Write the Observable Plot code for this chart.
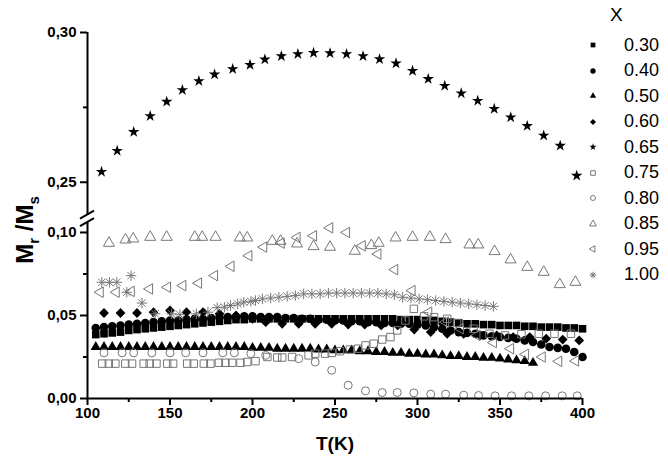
<!DOCTYPE html>
<html><head><meta charset="utf-8">
<script src="https://cdn.jsdelivr.net/npm/d3@7"></script>
<script src="https://cdn.jsdelivr.net/npm/@observablehq/plot@0.6"></script>
<style>
html,body{margin:0;padding:0;background:#fff;}
#wrap{position:relative;width:668px;height:459px;font-family:"Liberation Sans",Arial,sans-serif;}
#legend{position:absolute;left:580px;top:0;width:88px;color:#000;}
#legend .title{position:absolute;left:30px;top:4px;font-size:19px;}
#legend .row{position:absolute;left:0;height:20px;display:flex;align-items:center;}
#legend .row svg{width:26px;height:20px;}
#legend .row span{font-size:18px;margin-left:18px;}
</style></head><body><div id="wrap"></div>
<script>
// ---- data ----
const seriesLabels = ["0.30","0.40","0.50","0.60","0.65","0.75","0.80","0.85","0.95","1.00"];

const t030 = [105,110,115,120,125,130,135,140,145,150,155,160,165,170,175,180,185,190,195,200,205,210,215,220,225,230,235,240,245,250,255,260,265,270,275,280,285,290,295,300,305,310,315,320,325,330,335,340,345,350,355,360,365,370,375,380,385,390,395,400];
const v030 = [.0385,.039,.0395,.040,.041,.0415,.042,.0425,.043,.0435,.044,.0445,.045,.0455,.046,.0465,.047,.0475,.0475,.048,.048,.048,.048,.048,.048,.048,.048,.048,.048,.048,.048,.048,.048,.048,.048,.048,.048,.0475,.0475,.0475,.047,.047,.0465,.046,.0455,.045,.045,.0445,.0445,.044,.044,.044,.0435,.0435,.043,.043,.043,.0425,.0425,.042];

const t040 = [105,110,115,120,125,130,135,140,145,150,155,160,165,170,175,180,185,190,195,200,205,210,215,220,225,230,235,240,245,250,255,260,265,270,275,280,285,290,295,300,305,310,315,320,325,330,335,340,345,350,355,360,365,370,375,380,385,390,395,400];
const v040 = [.0425,.043,.0435,.044,.0445,.045,.0455,.046,.0465,.047,.047,.0475,.048,.048,.0485,.049,.049,.049,.0495,.0495,.049,.049,.049,.0485,.0485,.048,.048,.0475,.0475,.047,.047,.0465,.0465,.046,.046,.0455,.0455,.045,.045,.0445,.044,.043,.042,.041,.040,.0395,.039,.038,.0375,.037,.0365,.036,.035,.034,.0325,.031,.0305,.030,.028,.025];

const t050 = [105,110,115,120,125,130,135,140,145,150,155,160,165,170,175,180,185,190,195,200,205,210,215,220,225,230,235,240,245,250,255,260,265,270,275,280,285,290,295,300,305,310,315,320,325,330,335,340,345,350,355,360,365,370];
const v050 = [.031,.031,.031,.031,.031,.031,.031,.031,.031,.031,.031,.031,.031,.031,.031,.031,.031,.031,.031,.0305,.0305,.0305,.030,.030,.030,.030,.030,.0295,.0295,.029,.029,.029,.0285,.0285,.028,.028,.0275,.0275,.027,.027,.0265,.0265,.026,.0255,.0255,.025,.025,.0245,.0245,.024,.0235,.023,.0225,.0215];

const t060 = [110,120,130,140,150,160,170,180,190,200,208,218,228,238,248,258,268,278,288,298,308,318,328,338,348,358,368,378,388,398];
const v060 = [.0515,.0515,.0515,.052,.053,.052,.052,.051,.050,.048,.046,.045,.045,.045,.045,.0445,.0445,.044,.044,.0415,.040,.039,.039,.038,.038,.037,.037,.036,.0355,.035];

const t065 = [108.5,118,128,138,148,157.5,167.5,177,188,198.5,207.5,217.5,227.5,237,247,257,267,277,287,297,306.5,316.5,326.5,336.5,346.5,356.5,366.5,376.5,386.5,396.5];
const v065 = [.2535,.2605,.2668,.2721,.2769,.2808,.2838,.2860,.2878,.2892,.2910,.2921,.2928,.2932,.2931,.2928,.2921,.2911,.2897,.2872,.2845,.2822,.2797,.2772,.2745,.2717,.2688,.2656,.2622,.2522];

const t075 = [108.9,112.9,116.9,122.9,127,134,137.7,141.8,148.3,151.9,160.4,164.4,170.5,174.5,179.6,183.6,187.7,192.7,196.8,201.8,209,215,218,224,234,238,244,248,253,259,264,268.5,273.5,278.6,283.6,287.7,292.7,297.8,304,310,318,324,334,343.6,353,363,373.5,383,393];
const v075 = [.021,.021,.021,.021,.021,.021,.021,.021,.021,.021,.021,.021,.021,.021,.0215,.0215,.0215,.0215,.022,.0225,.025,.0247,.0247,.025,.026,.027,.027,.0275,.0285,.0295,.030,.032,.033,.0355,.037,.041,.047,.054,.0495,.049,.048,.0455,.042,.039,.038,.0387,.039,.039,.039];

const t080 = [110,121,128,139,150,159.5,170,182,189,199,208,228,238,248,258,268.5,278.6,287.7,297.8,308,317,328,337,347,357,367.5,377.6,387.7,396.8];
const v080 = [.0275,.0275,.0275,.0275,.0275,.0275,.0275,.0275,.0275,.027,.026,.024,.022,.017,.008,.0046,.0036,.0036,.0034,.0026,.0026,.002,.0018,.0016,.0016,.0016,.0016,.0016,.0016];

const t085 = [113,123,127.7,138,148,165,169.5,177.6,192.3,196.8,212,217,227,237,247,262,272,276.5,286.7,297,307.5,317,331.5,336.8,346.7,356.4,366.5,376.5,386.2,395.7];
const v085 = [.0936,.0956,.0962,.0972,.0972,.0972,.0972,.0972,.0968,.0968,.0948,.0948,.0932,.0916,.0912,.0888,.0922,.0936,.0968,.0972,.0972,.0958,.0926,.0926,.0886,.0836,.0791,.0761,.0687,.0701];

const t095 = [107.7,117.4,126.5,137.6,148.5,157.8,167.3,177,187,197.8,206.8,217.4,227,237,246.8,257,266.5,276,286.2,296.7,306.8,317,326,336,346,356.4,365.5,375.6,385.6,395.8];
const v095 = [.064,.064,.0645,.066,.067,.068,.0695,.074,.0796,.086,.0912,.0936,.097,.098,.1028,.100,.092,.087,.0776,.065,.052,.046,.042,.038,.0337,.030,.0266,.025,.0224,.0226];

const t100 = [108.7,113.3,117.8,123.8,126.4,133,141,151,156,166,173,178.6,183,186.7,191,194.7,199,201.8,206,211,216,221,226,231,236,241,246,251,256,261,266,271,276,281,286,291,296,301,306,311,316,321,326,331,336,341,346];
const v100 = [.070,.070,.070,.064,.074,.0575,.051,.051,.0505,.051,.052,.0547,.055,.056,.057,.058,.0585,.059,.060,.0605,.061,.0615,.062,.063,.063,.063,.0635,.0635,.0635,.0635,.0635,.0635,.0635,.063,.0625,.061,.0605,.060,.0595,.059,.0585,.058,.0575,.057,.0565,.056,.0555];

const xTicks = [100,150,200,250,300,350,400];
const xMinorTicks = [125,175,225,275,325,375];
const yTicks = [0,0.05,0.10,0.25,0.30];
const yMinorTicks = [0.025,0.075,0.275];

// ---- axis break (lower segment top, upper segment bottom) ----
const lowTop = 0.106, upBottom = 0.239;
const yTransform = v => v < 0.17 ? v : 0.13025 + (v - 0.25) * 1.804;

const seriesT = [t030,t040,t050,t060,t065,t075,t080,t085,t095,t100];
const seriesV = [v030,v040,v050,v060,v065,v075,v080,v085,v095,v100];
const rows = seriesLabels.flatMap((lab, i) => seriesT[i].map((T, j) => ({T, v: seriesV[i][j], x: lab})));

// ---- symbols ----
const leftTriangle = {draw(ctx, size) {
  const y = -Math.sqrt(size / (Math.sqrt(3) * 3));
  ctx.moveTo(2 * y, 0); ctx.lineTo(-y, -Math.sqrt(3) * y); ctx.lineTo(-y, Math.sqrt(3) * y); ctx.closePath();
}};
const asterisk8 = {draw(ctx, size) {
  const r = Math.sqrt(size / Math.PI);
  for (let i = 0; i < 4; i++) { const a = i * Math.PI / 4;
    ctx.moveTo(r * Math.cos(a), r * Math.sin(a)); ctx.lineTo(-r * Math.cos(a), -r * Math.sin(a)); }
}};
const GRAY = "#777";
const styles = {
  "0.30": {symbol: d3.symbolSquare, r: 4.3, fill: "#000", stroke: "none"},
  "0.40": {symbol: d3.symbolCircle, r: 4.3, fill: "#000", stroke: "none"},
  "0.50": {symbol: d3.symbolTriangle, r: 3.8, fill: "#000", stroke: "none"},
  "0.60": {symbol: d3.symbolDiamond2, r: 4.4, fill: "#000", stroke: "none"},
  "0.65": {symbol: d3.symbolStar, r: 3.6, fill: "#000", stroke: "none"},
  "0.75": {symbol: d3.symbolSquare, r: 4.2, fill: "none", stroke: GRAY},
  "0.80": {symbol: d3.symbolCircle, r: 4.0, fill: "none", stroke: GRAY},
  "0.85": {symbol: d3.symbolTriangle, r: 4.1, fill: "none", stroke: GRAY},
  "0.95": {symbol: leftTriangle, r: 3.9, fill: "none", stroke: GRAY},
  "1.00": {symbol: asterisk8, r: 5.2, fill: "none", stroke: GRAY}
};

const fmt = v => v.toFixed(2).replace(".", ",");

function breakMarks(index, scales) {
  const x = scales.x(100);
  const y1 = scales.y(yTransform(lowTop));
  const y2 = scales.y(yTransform(upBottom));
  const g = d3.create("svg:g").attr("stroke", "#000").attr("stroke-width", 2);
  g.append("line").attr("x1", x - 7).attr("y1", y1 + 4).attr("x2", x + 7).attr("y2", y1 - 4);
  g.append("line").attr("x1", x - 7).attr("y1", y2 + 4).attr("x2", x + 7).attr("y2", y2 - 4);
  return g.node();
}

const dotMarks = seriesLabels.map(lab => {
  const s = styles[lab];
  return Plot.dot(rows.filter(d => d.x === lab), {x: "T", y: "v", symbol: s.symbol, r: s.r, fill: s.fill, stroke: s.stroke, strokeWidth: 1});
});

const chart = Plot.plot({
  width: 668, height: 459,
  marginLeft: 87, marginRight: 86, marginTop: 32, marginBottom: 61,
  style: {fontFamily: "'Liberation Sans', Arial, sans-serif", background: "#fff", color: "#000"},
  x: {domain: [100, 400], label: null},
  y: {transform: yTransform, domain: [0, yTransform(0.30)], label: null},
  marks: [
    ...dotMarks,
    Plot.ruleX([100], {y1: 0, y2: lowTop, strokeWidth: 2}),
    Plot.ruleX([100], {y1: upBottom, y2: 0.30, strokeWidth: 2}),
    Plot.ruleY([0], {strokeWidth: 2}),
    breakMarks,
    Plot.axisY(yTicks, {tickSize: 7, tickPadding: 4, tickFormat: fmt, strokeWidth: 2, fontSize: 15, fontWeight: "bold", label: null}),
    Plot.axisY(yMinorTicks, {tickSize: 4, tickFormat: () => "", strokeWidth: 2, label: null}),
    Plot.axisX(xTicks, {tickSize: 7, tickPadding: 2, tickFormat: d => String(d), strokeWidth: 2, fontSize: 15, fontWeight: "bold", label: null}),
    Plot.axisX(xMinorTicks, {tickSize: 4, tickFormat: () => "", strokeWidth: 2, label: null}),
    Plot.text(["T(K)"], {frameAnchor: "bottom", dy: 51, fontSize: 19, fontWeight: "bold"})
  ]
});

const wrap = document.getElementById("wrap");
wrap.appendChild(chart);

// y-axis title with subscripts
const svg = d3.select(chart);
const title = svg.append("text")
  .attr("transform", "translate(33,230) rotate(-90)")
  .attr("text-anchor", "middle")
  .attr("font-size", 24).attr("font-weight", "bold").attr("fill", "#000");
title.append("tspan").text("M");
title.append("tspan").attr("font-size", 15).attr("dy", 6).text("r");
title.append("tspan").attr("dy", -6).text(" /M");
title.append("tspan").attr("font-size", 15).attr("dy", 6).text("s");

// legend
const legend = d3.select(wrap).append("div").attr("id", "legend");
legend.append("div").attr("class", "title").text("X");
seriesLabels.forEach((lab, i) => {
  const s = styles[lab];
  const row = legend.append("div").attr("class", "row").style("top", (35 + i * 25.5) + "px");
  const sv = row.append("svg");
  const scale = 0.62;
  sv.append("path")
    .attr("transform", "translate(13,10)")
    .attr("d", d3.symbol(s.symbol, Math.PI * (s.r * scale) ** 2)())
    .attr("fill", s.fill).attr("stroke", s.stroke).attr("stroke-width", 1);
  row.append("span").text(lab);
});
</script></body></html>
